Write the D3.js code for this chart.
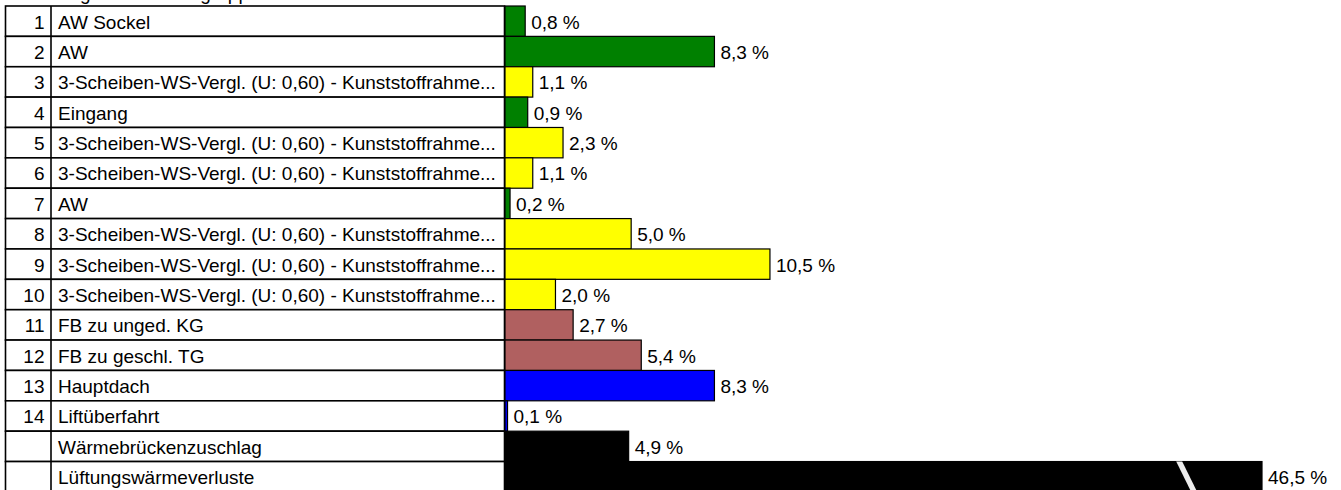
<!DOCTYPE html>
<html>
<head>
<meta charset="utf-8">
<script src="https://cdn.jsdelivr.net/npm/d3@7"></script>
<style>
  body { margin: 0; background: #fff; }
  svg { display: block; font-family: "Liberation Sans", Arial, sans-serif; }
</style>
</head>
<body>
<div class="chart"></div>
<script>
// data
const rowNumbers = ["1", "2", "3", "4", "5", "6", "7", "8", "9", "10", "11", "12", "13", "14", "", ""];
const labels = [
  "AW Sockel",
  "AW",
  "3-Scheiben-WS-Vergl. (U: 0,60) - Kunststoffrahme...",
  "Eingang",
  "3-Scheiben-WS-Vergl. (U: 0,60) - Kunststoffrahme...",
  "3-Scheiben-WS-Vergl. (U: 0,60) - Kunststoffrahme...",
  "AW",
  "3-Scheiben-WS-Vergl. (U: 0,60) - Kunststoffrahme...",
  "3-Scheiben-WS-Vergl. (U: 0,60) - Kunststoffrahme...",
  "3-Scheiben-WS-Vergl. (U: 0,60) - Kunststoffrahme...",
  "FB zu unged. KG",
  "FB zu geschl. TG",
  "Hauptdach",
  "Liftüberfahrt",
  "Wärmebrückenzuschlag",
  "Lüftungswärmeverluste"
];
const shares = [0.8, 8.3, 1.1, 0.9, 2.3, 1.1, 0.2, 5.0, 10.5, 2.0, 2.7, 5.4, 8.3, 0.1, 4.9, 46.5];
const groups = ["wand", "wand", "fenster", "wand", "fenster", "fenster", "wand", "fenster",
  "fenster", "fenster", "boden", "boden", "dach", "dach", "zuschlag", "zuschlag"];
const groupNames = ["wand", "fenster", "boden", "dach", "zuschlag"];
const groupColors = ["#008000", "#ffff00", "#b06060", "#0000ff", "#000000"];
const axisMax = 30;      // bars longer than this are cut
const breakValue = 26.6; // where the cut mark sits
const title = "Verteilung nach Bauteilgruppen";

const width = 1341, height = 490;
const tableLeft = 5.5, numRight = 51, tableRight = 504.5;

let svg = d3
  .select(".chart")
  .append("svg")
  .attr("width", width)
  .attr("height", height);

let rows = d3.range(labels.length);

let y = d3.scaleBand().domain(rows).range([6, 6 + 30.37 * labels.length]).padding(0);
let x = d3.scaleLinear().domain([0, axisMax]).range([505, 1262]);
let color = d3.scaleOrdinal().domain(groupNames).range(groupColors);
let fmt = (v) => d3.format(".1f")(v).replace(".", ",") + " %";

// title, almost fully outside the top edge
svg.append("text")
  .attr("x", 6)
  .attr("y", 0)
  .attr("font-size", 19)
  .text(title);

// table
let table = svg.append("g").attr("class", "table");

table.selectAll("rect.cell")
  .data(rows)
  .enter()
  .append("rect")
  .attr("class", "cell")
  .attr("x", tableLeft)
  .attr("y", (d) => y(d))
  .attr("width", tableRight - tableLeft)
  .attr("height", y.bandwidth())
  .attr("fill", "#fff")
  .attr("stroke", "#000")
  .attr("stroke-width", 1.6);

table.append("line")
  .attr("x1", numRight)
  .attr("x2", numRight)
  .attr("y1", y.range()[0])
  .attr("y2", y.range()[1])
  .attr("stroke", "#000")
  .attr("stroke-width", 1.6);

table.selectAll("text.num")
  .data(rows)
  .enter()
  .append("text")
  .attr("class", "num")
  .attr("x", 44.5)
  .attr("y", (d) => y(d) + y.bandwidth() / 2 + 7.4)
  .attr("text-anchor", "end")
  .attr("font-size", 19)
  .text((d) => rowNumbers[d]);

table.selectAll("text.label")
  .data(rows)
  .enter()
  .append("text")
  .attr("class", "label")
  .attr("x", 58)
  .attr("y", (d) => y(d) + y.bandwidth() / 2 + 7.4)
  .attr("font-size", 19)
  .text((d) => labels[d]);

// bars
let bars = svg.append("g").attr("class", "bars");

bars.selectAll("rect")
  .data(rows)
  .enter()
  .append("rect")
  .attr("x", x(0))
  .attr("y", (d) => y(d))
  .attr("width", (d) => x(Math.min(shares[d], axisMax)) - x(0))
  .attr("height", y.bandwidth())
  .attr("fill", (d) => color(groups[d]))
  .attr("stroke", "#000")
  .attr("stroke-width", 1.2);

// break mark on cut bars
bars.selectAll("path.cut")
  .data(rows.filter((d) => shares[d] > axisMax))
  .enter()
  .append("path")
  .attr("class", "cut")
  .attr("d", (d) => {
    let t = y(d), b = y(d) + y.bandwidth(), x0 = x(breakValue), s = 15, w = 6;
    return `M${x0},${t} L${x0 + w},${t} L${x0 + w + s},${b} L${x0 + s},${b} Z`;
  })
  .attr("fill", "#ececec");

// value labels
svg.append("g")
  .selectAll("text")
  .data(rows)
  .enter()
  .append("text")
  .attr("x", (d) => x(Math.min(shares[d], axisMax)) + 6)
  .attr("y", (d) => y(d) + y.bandwidth() / 2 + 7.4)
  .attr("font-size", 19)
  .text((d) => fmt(shares[d]));
</script>
</body>
</html>
